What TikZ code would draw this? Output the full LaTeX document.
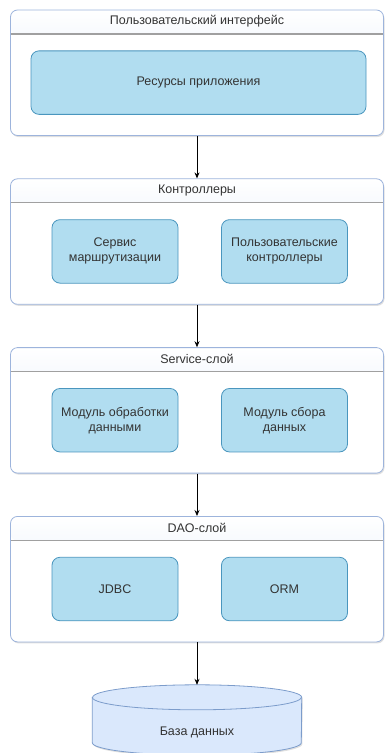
\documentclass[tikz,border=0pt]{standalone}
\usepackage{fontspec}
\setmainfont{Liberation Sans}
\usetikzlibrary{positioning,shadows,arrows.meta}

\definecolor{layerline}{HTML}{9DB4DC}
\definecolor{headbot}{HTML}{D8E5F8}
\definecolor{sepgray}{HTML}{A0A0A0}
\definecolor{boxfill}{HTML}{B1DDF0}
\definecolor{boxline}{HTML}{4A96BE}
\definecolor{dbfill}{HTML}{DAE8FC}
\definecolor{dbline}{HTML}{7C9CCB}
\definecolor{textgray}{HTML}{333333}

\begin{document}
\begin{tikzpicture}[x=1pt, y=1pt, node distance=42.5pt, >={Stealth[length=6pt,width=5pt]},
	layer/.style={draw=layerline, fill=white, line width=0.8pt, rounded corners=7pt,
		minimum width=373pt, minimum height=125.5pt, inner sep=0pt,
		drop shadow={opacity=0.25, shadow xshift=1pt, shadow yshift=-1.5pt},
		path picture={
			\shade[top color=white, bottom color=headbot] (path picture bounding box.north west) rectangle ([yshift=-24pt]path picture bounding box.north east);
			\draw[sepgray, line width=1.3pt] ([yshift=-24pt]path picture bounding box.north west) -- ([yshift=-24pt]path picture bounding box.north east);
		}},
	layertitle/.style={text=textgray, font=\fontsize{12.5}{15}\selectfont, inner sep=0pt},
	module/.style={draw=boxline, fill=boxfill, line width=0.8pt, rounded corners=8pt, text=textgray,
		align=center, font=\fontsize{12.5}{15}\selectfont, minimum width=126pt, minimum height=63.5pt, inner sep=0pt},
	wide/.style={minimum width=335pt},
	dbshape/.style={draw=dbline, fill=dbfill, line width=0.8pt},
	flow/.style={->, black, line width=0.8pt}]
	\useasboundingbox (0,0) rectangle (385,-753);

	% layers
	\node[layer]                 (UI)   at (197,-72.75) {};
	\node[layer, below=of UI]    (CTRL) {};
	\node[layer, below=of CTRL]  (SRV)  {};
	\node[layer, below=of SRV]   (DAO)  {};
	\node[minimum width=209pt, minimum height=70pt, inner sep=0pt, below=of DAO] (DB) {};

	% titles
	\node[layertitle] (UIt)   at ([yshift=-12pt]UI.north)   {Пользовательский интерфейс};
	\node[layertitle] (CTRLt) at ([yshift=-12pt]CTRL.north) {Контроллеры};
	\node[layertitle] (SRVt)  at ([yshift=-12pt]SRV.north)  {Service-слой};
	\node[layertitle] (DAOt)  at ([yshift=-12pt]DAO.north)  {DAO-слой};

	% modules
	\node[module, wide] (RES)   at ([xshift=1.5pt,yshift=-73pt]UI.north)    {Ресурсы приложения};
	\node[module]       (ROUTE) at ([xshift=-82pt,yshift=-73pt]CTRL.north)  {Сервис\\маршрутизации};
	\node[module]       (USERC) at ([xshift=87.5pt,yshift=-73pt]CTRL.north) {Пользовательские\\контроллеры};
	\node[module]       (PROC)  at ([xshift=-82pt,yshift=-73pt]SRV.north)   {Модуль обработки\\данными};
	\node[module]       (COLL)  at ([xshift=87.5pt,yshift=-73pt]SRV.north)  {Модуль сбора\\данных};
	\node[module]       (JDBC)  at ([xshift=-82pt,yshift=-73pt]DAO.north)   {JDBC};
	\node[module]       (ORM)   at ([xshift=87.5pt,yshift=-73pt]DAO.north)  {ORM};

	% database
	\draw[dbshape, drop shadow={opacity=0.25, shadow xshift=1pt, shadow yshift=-1.5pt}]
		([yshift=-12.5pt]DB.north west) -- ([yshift=12.5pt]DB.south west)
		arc[start angle=180, end angle=360, x radius=104.5pt, y radius=12.5pt]
		-- ([yshift=-12.5pt]DB.north east)
		arc[start angle=0, end angle=180, x radius=104.5pt, y radius=12.5pt] -- cycle;
	\draw[dbline, line width=0.8pt] ([yshift=-12.5pt]DB.north west)
		arc[start angle=180, end angle=360, x radius=104.5pt, y radius=12.5pt];
	\node[layertitle] (DBt) at ([yshift=-12pt]DB.center) {База данных};

	% arrows
	\draw[flow] (UI.south)   -- (CTRL.north);
	\draw[flow] (CTRL.south) -- (SRV.north);
	\draw[flow] (SRV.south)  -- (DAO.north);
	\draw[flow] (DAO.south)  -- (DB.north);
\end{tikzpicture}
\end{document}
